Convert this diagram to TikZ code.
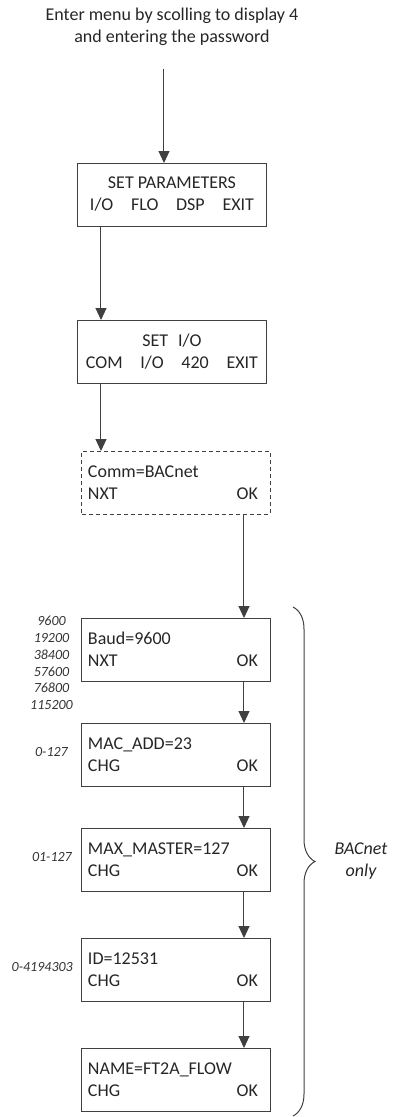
\documentclass[tikz,border=0pt]{standalone}
\usepackage{fontspec}
\setmainfont{Carlito}
\usetikzlibrary{positioning,arrows.meta,decorations.pathreplacing}
\tikzset{menubox/.style={rectangle,draw=black!75,line width=1pt,text=black!85,minimum width=188pt,minimum height=63pt,inner sep=0pt,outer sep=0pt,align=center,font=\fontsize{18}{22}\selectfont}}
\tikzset{entrybox/.style={rectangle,draw=black!75,line width=1pt,text=black!85,minimum width=188pt,minimum height=63pt,inner xsep=6pt,inner ysep=0pt,outer sep=0pt,text width=176pt,align=left,font=\fontsize{18}{22}\selectfont}}
\tikzset{choicebox/.style={entrybox,dash pattern=on 4pt off 3pt}}
\tikzset{rangetext/.style={text=black!80,align=center,inner sep=0pt,font=\fontsize{14}{16.8}\selectfont\itshape}}
\tikzset{titletext/.style={text=black!85,align=center,font=\fontsize{18}{22}\selectfont}}
\tikzset{bracetext/.style={titletext,font=\fontsize{18}{22}\selectfont\itshape}}
\tikzset{toArrow/.style={-{Triangle[width=11pt,length=12pt]},line width=1pt,draw=black!75}}
\tikzset{bracket/.style={decorate,decoration={brace,amplitude=22pt},line width=1pt,draw=black!75}}

\begin{document}
\begin{tikzpicture}
\useasboundingbox (-172pt,194.5pt) rectangle (221pt,-922.5pt);
\begin{scope}[node distance=94pt]
	\node (setpar) [menubox] at (0,0) {SET PARAMETERS\\\makebox[164pt]{I/O\hfill FLO\hfill DSP\hfill EXIT}} ;
	\node (setio) [menubox, below =of setpar] {SET\hspace{10pt}I/O\\\makebox[172pt]{COM\hfill I/O\hfill 420\hfill EXIT}} ;
	\node (comm) [choicebox, below =68pt of setio, xshift=4pt] {Comm=BACnet\\\makebox[170pt]{NXT\hfill OK}} ;
	\node (baud) [entrybox, below =104pt of comm] {Baud=9600\\\makebox[170pt]{NXT\hfill OK}} ;
	\node (mac) [entrybox, below =42pt of baud] {MAC\_ADD=23\\\makebox[170pt]{CHG\hfill OK}} ;
	\node (maxm) [entrybox, below =42pt of mac] {MAX\_MASTER=127\\\makebox[170pt]{CHG\hfill OK}} ;
	\node (devid) [entrybox, below =47pt of maxm] {ID=12531\\\makebox[170pt]{CHG\hfill OK}} ;
	\node (devname) [entrybox, below =47pt of devid] {NAME=FT2A\_FLOW\\\makebox[170pt]{CHG\hfill OK}} ;
	% value ranges
	\node (baudset) [rangetext, left =9pt of baud, yshift=-13.5pt] {9600\\19200\\38400\\57600\\76800\\115200} ;
	\node (macset) [rangetext, left =14pt of mac, yshift=2.5pt] {0-127} ;
	\node (maxset) [rangetext, left =10pt of maxm, yshift=2.5pt] {01-127} ;
	\node (idset) [rangetext, left =9pt of devid, yshift=2.5pt] {0-4194303} ;
	% entry point
	\coordinate [above =of setpar, xshift=-8pt] (entry) ;
	\node (title) [titletext] at ([yshift=136pt]setpar.north) {Enter menu by scolling to display 4\\and entering the password} ;
	\draw [toArrow] (entry) -- (entry |- setpar.north) ;
	\draw [toArrow] ([xshift=23pt]setpar.south west) -- ([xshift=23pt]setio.north west) ;
	\draw [toArrow] ([xshift=23pt]setio.south west) -- ([xshift=23pt]setio.south west |- comm.north) ;
	\draw [toArrow] ([xshift=-26pt]comm.south east) -- ([xshift=-26pt]baud.north east) ;
	\foreach \a/\b in {baud/mac,mac/maxm,maxm/devid,devid/devname}
		\draw [toArrow] ([xshift=-26pt]\a.south east) -- ([xshift=-26pt]\b.north east) ;
	% bacnet bracket
	\draw [bracket] ([xshift=23pt,yshift=11pt]baud.north east) -- ([xshift=23pt,yshift=-5pt]devname.south east) node [midway, xshift=68pt, bracetext] (only) {BACnet\\only} ;
\end{scope}
\end{tikzpicture}
\end{document}
